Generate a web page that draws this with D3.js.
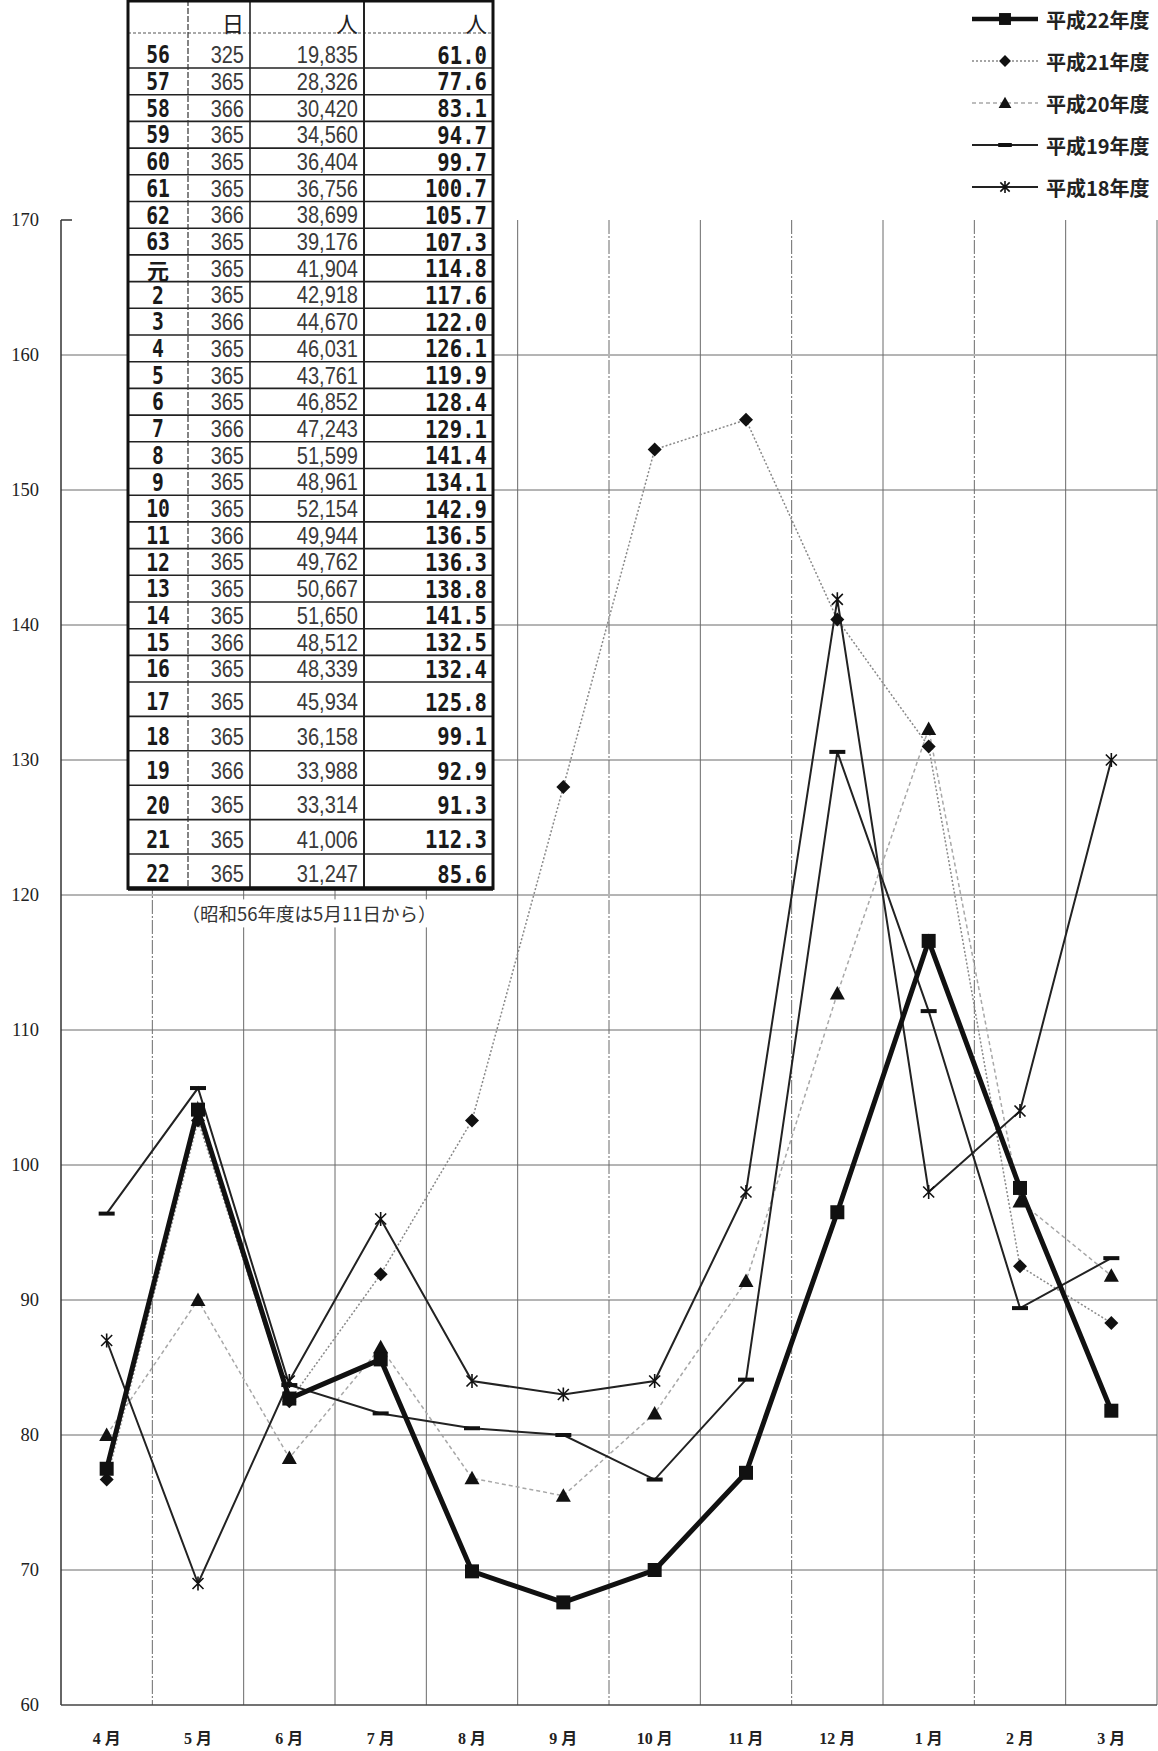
<!DOCTYPE html>
<html><head><meta charset="utf-8">
<script src="https://cdn.jsdelivr.net/npm/d3@7"></script>
<style>
html,body{margin:0;padding:0;background:#fff;}
svg{display:block;}
</style></head>
<body>
<svg id="c" width="1158" height="1751"></svg>
<script>
// ---- data ----
const months = ["4月","5月","6月","7月","8月","9月","10月","11月","12月","1月","2月","3月"];
const yTicks = [60,70,80,90,100,110,120,130,140,150,160,170];
const seriesNames = ["平成22年度","平成21年度","平成20年度","平成19年度","平成18年度"];
const h22 = [77.5,104.1,82.7,85.6,69.9,67.6,70.0,77.2,96.5,116.6,98.3,81.8];
const h21 = [76.7,103.3,82.5,91.9,103.3,128.0,153.0,155.2,140.4,131.0,92.5,88.3];
const h20 = [80.0,90.0,78.3,86.5,76.8,75.5,81.6,91.4,112.7,132.3,97.3,91.8];
const h19 = [96.4,105.7,83.7,81.6,80.5,80.0,76.7,84.1,130.6,111.4,89.4,93.1];
const h18 = [87.0,69.0,84.0,96.0,84.0,83.0,84.0,98.0,141.9,98.0,104.0,130.0];

const tableHeader = ["","日","人","人"];
const tableYears = ["56","57","58","59","60","61","62","63","元","2","3","4","5","6","7","8","9","10","11","12","13","14","15","16","17","18","19","20","21","22"];
const tableDays = [325,365,366,365,365,365,366,365,365,365,366,365,365,365,366,365,365,365,366,365,365,365,366,365,365,365,366,365,365,365];
const tablePeople = ["19,835","28,326","30,420","34,560","36,404","36,756","38,699","39,176","41,904","42,918","44,670","46,031","43,761","46,852","47,243","51,599","48,961","52,154","49,944","49,762","50,667","51,650","48,512","48,339","45,934","36,158","33,988","33,314","41,006","31,247"];
const tableAvg = ["61.0","77.6","83.1","94.7","99.7","100.7","105.7","107.3","114.8","117.6","122.0","126.1","119.9","128.4","129.1","141.4","134.1","142.9","136.5","136.3","138.8","141.5","132.5","132.4","125.8","99.1","92.9","91.3","112.3","85.6"];
const footnote = "（昭和56年度は5月11日から）";

// ---- layout ----
const svg = d3.select("#c");
const L = 61, R = 1157, T = 220, B = 1705;
const x = d3.scaleBand().domain(months).range([L, R]).paddingInner(0).paddingOuter(0);
const xc = m => x(m) + x.bandwidth()/2;
const y = d3.scaleLinear().domain([60,170]).range([B, T]);

// gridlines
const grid = svg.append("g");
months.forEach((m,i) => {
  const gx = x(m) + x.bandwidth();
  grid.append("line").attr("x1",gx).attr("x2",gx).attr("y1",T).attr("y2",B)
    .attr("stroke","#6a6a6a").attr("stroke-width",1)
    .attr("stroke-dasharray", (i===0||i===5||i===7||i===9) ? "14,2,2,2" : null);
});
yTicks.filter(v => v>60 && v<170).forEach(v => {
  grid.append("line").attr("x1",L).attr("x2",R).attr("y1",y(v)).attr("y2",y(v))
    .attr("stroke","#6a6a6a").attr("stroke-width",1);
});
// axes
svg.append("line").attr("x1",L).attr("x2",L).attr("y1",T).attr("y2",B).attr("stroke","#333").attr("stroke-width",1.5);
svg.append("line").attr("x1",L).attr("x2",R).attr("y1",B).attr("y2",B).attr("stroke","#444").attr("stroke-width",1.5);
svg.append("line").attr("x1",L).attr("x2",L+11).attr("y1",T).attr("y2",T).attr("stroke","#333").attr("stroke-width",1.5);

const yAxis = d3.axisLeft(y).tickValues(yTicks).tickSize(0).tickPadding(22);
const ya = svg.append("g").attr("transform",`translate(${L},0)`).call(yAxis);
ya.select(".domain").remove();
ya.selectAll("text").attr("font-family","'Liberation Serif',serif").attr("font-size",18.5).attr("fill","#222");

const xAxis = d3.axisBottom(x).tickSize(0).tickPadding(0);
const xa = svg.append("g").attr("transform",`translate(0,${B+33})`).call(xAxis);
xa.select(".domain").remove();
xa.selectAll("text").attr("font-family","'Liberation Serif','Noto Sans CJK JP',serif").attr("font-weight","bold")
  .attr("font-size",16).attr("fill","#222").attr("dy","0.35em")
  .each(function(d){
    const t = d3.select(this);
    const num = d.replace("月","");
    t.text(null);
    t.append("tspan").text(num);
    t.append("tspan").attr("dx",4).text("月");
  });

// ---- table ----
const tb = svg.append("g");
const cx = [128,188,250,364,493];
const rowsA = tableYears.length;
const rowTop = i => i < 24 ? 41.3 + i*26.7 : 682 + (i-24)*34.4;
const rowBot = i => i < 24 ? 41.3 + (i+1)*26.7 : 682 + (i-23)*34.4;
const tBottom = rowBot(rowsA-1);
tb.append("rect").attr("x",cx[0]).attr("y",0).attr("width",cx[4]-cx[0]).attr("height",tBottom).attr("fill","#fff");
// row lines
for (let i=1;i<rowsA;i++){
  tb.append("line").attr("x1",cx[0]).attr("x2",cx[4]).attr("y1",rowTop(i)).attr("y2",rowTop(i)).attr("stroke","#222").attr("stroke-width",1.6);
}
tb.append("line").attr("x1",cx[0]).attr("x2",cx[4]).attr("y1",33).attr("y2",33).attr("stroke","#555").attr("stroke-width",1.2).attr("stroke-dasharray","3,2");
// column lines
tb.append("line").attr("x1",cx[1]).attr("x2",cx[1]).attr("y1",0).attr("y2",tBottom).attr("stroke","#333").attr("stroke-width",1.2).attr("stroke-dasharray","6,2");
tb.append("line").attr("x1",cx[2]).attr("x2",cx[2]).attr("y1",0).attr("y2",tBottom).attr("stroke","#222").attr("stroke-width",1.6);
tb.append("line").attr("x1",cx[3]).attr("x2",cx[3]).attr("y1",0).attr("y2",tBottom).attr("stroke","#222").attr("stroke-width",2);
// outer border
tb.append("rect").attr("x",cx[0]).attr("y",1).attr("width",cx[4]-cx[0]).attr("height",tBottom-1).attr("fill","none").attr("stroke","#111").attr("stroke-width",3);
tb.append("line").attr("x1",cx[0]).attr("x2",cx[4]).attr("y1",tBottom).attr("y2",tBottom).attr("stroke","#111").attr("stroke-width",4.5);

function cell(tx, ty, str, anchor, sx, opts){
  const g = tb.append("g").attr("transform",`translate(${tx},${ty}) scale(${sx},1)`);
  g.append("text").attr("x",0).attr("y",0).attr("text-anchor",anchor).attr("dominant-baseline","central")
    .attr("font-family",opts.ff).attr("font-size",opts.fs).attr("font-weight",opts.fw||"normal")
    .attr("fill",opts.fill||"#222").text(str);
}
const monoB = {ff:"'DejaVu Sans Mono','Noto Sans CJK JP',monospace", fs:24, fw:"bold", fill:"#1a1a1a"};
const regN = {ff:"'Liberation Sans','Noto Sans CJK JP',sans-serif", fs:23, fill:"#3a3a3a"};
// header
cell(cx[2]-6, 22, tableHeader[1], "end", 1, {ff:"'Noto Sans CJK JP'", fs:22, fill:"#222"});
cell(cx[3]-6, 22, tableHeader[2], "end", 1, {ff:"'Noto Sans CJK JP'", fs:22, fill:"#222"});
cell(cx[4]-6, 22, tableHeader[3], "end", 1, {ff:"'Noto Sans CJK JP'", fs:22, fill:"#222"});
tableYears.forEach((yr,i) => {
  const cy = (rowTop(i)+rowBot(i))/2 + (i<24 ? 0.5 : 3);
  if (yr === "元") cell(158, cy, yr, "middle", 1, {ff:"'Noto Sans CJK JP'", fs:22, fw:"bold", fill:"#1a1a1a"});
  else cell(158, cy, yr, "middle", 0.82, monoB);
  cell(cx[2]-6, cy, String(tableDays[i]), "end", 0.87, regN);
  cell(cx[3]-6, cy, tablePeople[i], "end", 0.87, regN);
  cell(cx[4]-6, cy, tableAvg[i], "end", 0.86, monoB);
});
// footnote
tb.append("rect").attr("x",cx[0]+30).attr("y",tBottom+11).attr("width",310).attr("height",28).attr("fill","#fff");
tb.append("text").attr("x",309).attr("y",tBottom+25).attr("text-anchor","middle").attr("dominant-baseline","central")
  .attr("font-family","'Noto Sans CJK JP',sans-serif").attr("font-size",18.5).attr("fill","#333").text(footnote);

// ---- series ----
const styles = [
  {data:h22, stroke:"#111", w:5, dash:null, marker:"square"},
  {data:h21, stroke:"#888", w:1.5, dash:"2,2", marker:"diamond"},
  {data:h20, stroke:"#a8a8a8", w:1.5, dash:"4,3", marker:"triangle"},
  {data:h19, stroke:"#222", w:2, dash:null, marker:"dash"},
  {data:h18, stroke:"#222", w:2, dash:null, marker:"star"}
];
function drawMarker(g, type, px, py, scale){
  const s = scale||1;
  if (type==="square") g.append("rect").attr("x",px-7*s).attr("y",py-7*s).attr("width",14*s).attr("height",14*s).attr("fill","#111");
  else if (type==="diamond") g.append("path").attr("d",`M${px},${py-7*s}L${px+7*s},${py}L${px},${py+7*s}L${px-7*s},${py}Z`).attr("fill","#111");
  else if (type==="triangle") g.append("path").attr("d",`M${px},${py-7.5*s}L${px+7.5*s},${py+6*s}L${px-7.5*s},${py+6*s}Z`).attr("fill","#111");
  else if (type==="dash") g.append("rect").attr("x",px-8*s).attr("y",py-2).attr("width",16*s).attr("height",4).attr("fill","#111");
  else if (type==="star") {
    const r = 7*s, d = 5.5*s;
    g.append("path").attr("d",`M${px},${py-r}L${px},${py+r}M${px-d},${py-d}L${px+d},${py+d}M${px-d},${py+d}L${px+d},${py-d}`)
      .attr("stroke","#111").attr("stroke-width",1.6).attr("fill","none");
  }
}
const lineGen = d3.line().x((d,i)=>xc(months[i])).y(d=>y(d));
const order = [2,1,4,3,0];
const sg = svg.append("g");
order.forEach(k => {
  const st = styles[k];
  sg.append("path").datum(st.data).attr("d",lineGen).attr("fill","none").attr("stroke",st.stroke)
    .attr("stroke-width",st.w).attr("stroke-dasharray",st.dash).attr("stroke-linejoin","miter");
});
order.forEach(k => {
  const st = styles[k];
  st.data.forEach((v,i) => drawMarker(sg, st.marker, xc(months[i]), y(v)));
});

// ---- legend ----
const lg = svg.append("g");
const legY = [19,61,103,145,187];
seriesNames.forEach((n,k) => {
  const st = styles[k];
  const ly = legY[k];
  lg.append("line").attr("x1",972).attr("x2",1038).attr("y1",ly).attr("y2",ly).attr("stroke",st.stroke)
    .attr("stroke-width", k===0 ? 4.5 : st.w).attr("stroke-dasharray",st.dash);
  drawMarker(lg, st.marker, 1005, ly, 0.85);
  lg.append("text").attr("x",1046).attr("y",ly).attr("dominant-baseline","central")
    .attr("font-family","'Noto Sans CJK JP',sans-serif").attr("font-size",20).attr("font-weight","bold").attr("fill","#222").text(n);
});
</script>
</body></html>
